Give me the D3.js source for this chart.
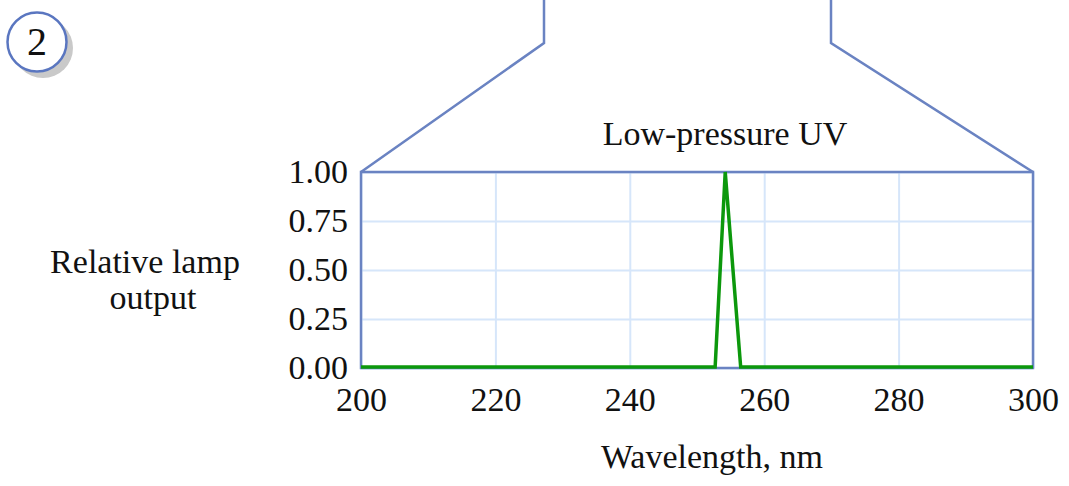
<!DOCTYPE html>
<html>
<head>
<meta charset="utf-8">
<script src="https://cdn.jsdelivr.net/npm/d3@7"></script>
<style>
  body { margin: 0; background: #ffffff; }
  svg { display: block; }
  .c_serif { font-family: "Liberation Serif", "Times New Roman", serif; fill: #111111; }
</style>
</head>
<body>
<div id="chart"></div>
<script>

// data
const wavelengths = [200, 252.7, 254.2, 256.5, 300];
const lampOutput = [0.005, 0.005, 1.0, 0.005, 0.005];
const xTicks = [200, 220, 240, 260, 280, 300];
const yTicks = [0, 0.25, 0.5, 0.75, 1.0];

const SVG_W = 1069;
const SVG_H = 486;

const PLOT_X0 = 361;
const PLOT_X1 = 1033;
const PLOT_Y0 = 172;
const PLOT_Y1 = 368;

const FUNNEL_X_LEFT = 544;
const FUNNEL_X_RIGHT = 831;
const FUNNEL_Y_BEND = 43;

const COLOR_FRAME = "#6a83c2";
const COLOR_GRID = "#d6e6fa";
const COLOR_LINE = "#0c980c";
const FONT_SIZE = 34;

// -------------------------------------------------

let svg = d3.select("#chart")
            .append("svg")
                .attr("width", SVG_W)
                .attr("height", SVG_H);

let scaleX = d3.scaleLinear()
                .domain([200, 300])
                .range([PLOT_X0, PLOT_X1]);

let scaleY = d3.scaleLinear()
                .domain([0, 1])
                .range([PLOT_Y1, PLOT_Y0]);

// ---------------------------------------------------------------------------------
// number badge

svg.append("circle")
        .attr("cx", 43)
        .attr("cy", 48)
        .attr("r", 30)
        .attr("fill", "#c9c9c9");

svg.append("circle")
        .attr("cx", 37)
        .attr("cy", 42)
        .attr("r", 29.5)
        .attr("fill", "#ffffff")
        .attr("stroke", "#5a76c0")
        .attr("stroke-width", 2.5);

svg.append("text")
        .attr("class", "c_serif")
        .attr("x", 37)
        .attr("y", 55)
        .attr("text-anchor", "middle")
        .attr("font-size", 40)
        .text("2");

// ---------------------------------------------------------------------------------
// funnel from the panel above

svg.append("path")
        .attr("d", "M" + PLOT_X0 + "," + PLOT_Y0 + " L" + FUNNEL_X_LEFT + "," + FUNNEL_Y_BEND + " L" + FUNNEL_X_LEFT + ",0")
        .attr("fill", "none")
        .attr("stroke", COLOR_FRAME)
        .attr("stroke-width", 2.5);

svg.append("path")
        .attr("d", "M" + PLOT_X1 + "," + PLOT_Y0 + " L" + FUNNEL_X_RIGHT + "," + FUNNEL_Y_BEND + " L" + FUNNEL_X_RIGHT + ",0")
        .attr("fill", "none")
        .attr("stroke", COLOR_FRAME)
        .attr("stroke-width", 2.5);

// ---------------------------------------------------------------------------------
// grid

svg.append("g")
        .attr("transform", "translate(0," + PLOT_Y1 + ")")
        .call(d3.axisBottom(scaleX).tickValues(xTicks).tickSize(-(PLOT_Y1 - PLOT_Y0)).tickFormat(""))
        .call(g => g.select(".domain").remove())
        .call(g => g.selectAll("line").attr("stroke", COLOR_GRID).attr("stroke-width", 2));

svg.append("g")
        .attr("transform", "translate(" + PLOT_X0 + ",0)")
        .call(d3.axisLeft(scaleY).tickValues(yTicks).tickSize(-(PLOT_X1 - PLOT_X0)).tickFormat(""))
        .call(g => g.select(".domain").remove())
        .call(g => g.selectAll("line").attr("stroke", COLOR_GRID).attr("stroke-width", 2));

// frame
svg.append("rect")
        .attr("x", PLOT_X0)
        .attr("y", PLOT_Y0)
        .attr("width", PLOT_X1 - PLOT_X0)
        .attr("height", PLOT_Y1 - PLOT_Y0)
        .attr("fill", "none")
        .attr("stroke", COLOR_FRAME)
        .attr("stroke-width", 2.5);

// ---------------------------------------------------------------------------------
// tick labels

svg.append("g")
        .attr("transform", "translate(0," + PLOT_Y1 + ")")
        .call(d3.axisBottom(scaleX).tickValues(xTicks).tickSize(0).tickPadding(0))
        .call(g => g.select(".domain").remove())
        .call(g => g.selectAll("text")
                        .attr("class", "c_serif")
                        .attr("font-size", FONT_SIZE)
                        .attr("dy", null)
                        .attr("y", 43)
                        .attr("fill", "#111111"));

svg.append("g")
        .attr("transform", "translate(" + PLOT_X0 + ",0)")
        .call(d3.axisLeft(scaleY).tickValues(yTicks).tickSize(0).tickPadding(13).tickFormat(d3.format(".2f")))
        .call(g => g.select(".domain").remove())
        .call(g => g.selectAll("text")
                        .attr("class", "c_serif")
                        .attr("font-size", FONT_SIZE)
                        .attr("dy", "0.3em")
                        .attr("fill", "#111111"));

// ---------------------------------------------------------------------------------
// spectrum line

let line = d3.line()
                .x(function(d, i) { return scaleX(wavelengths[i]); })
                .y(function(d) { return scaleY(d); });

svg.append("path")
        .attr("d", line(lampOutput))
        .attr("fill", "none")
        .attr("stroke", COLOR_LINE)
        .attr("stroke-width", 3.5)
        .attr("stroke-linejoin", "miter");

// ---------------------------------------------------------------------------------
// titles

svg.append("text")
        .attr("class", "c_serif")
        .attr("x", 725)
        .attr("y", 145)
        .attr("text-anchor", "middle")
        .attr("font-size", FONT_SIZE)
        .text("Low-pressure UV");

svg.append("text")
        .attr("class", "c_serif")
        .attr("x", 145)
        .attr("y", 273)
        .attr("text-anchor", "middle")
        .attr("font-size", FONT_SIZE)
        .text("Relative lamp");

svg.append("text")
        .attr("class", "c_serif")
        .attr("x", 153)
        .attr("y", 309)
        .attr("text-anchor", "middle")
        .attr("font-size", FONT_SIZE)
        .text("output");

svg.append("text")
        .attr("class", "c_serif")
        .attr("x", 712)
        .attr("y", 468)
        .attr("text-anchor", "middle")
        .attr("font-size", FONT_SIZE)
        .text("Wavelength, nm");

</script>
</body>
</html>
